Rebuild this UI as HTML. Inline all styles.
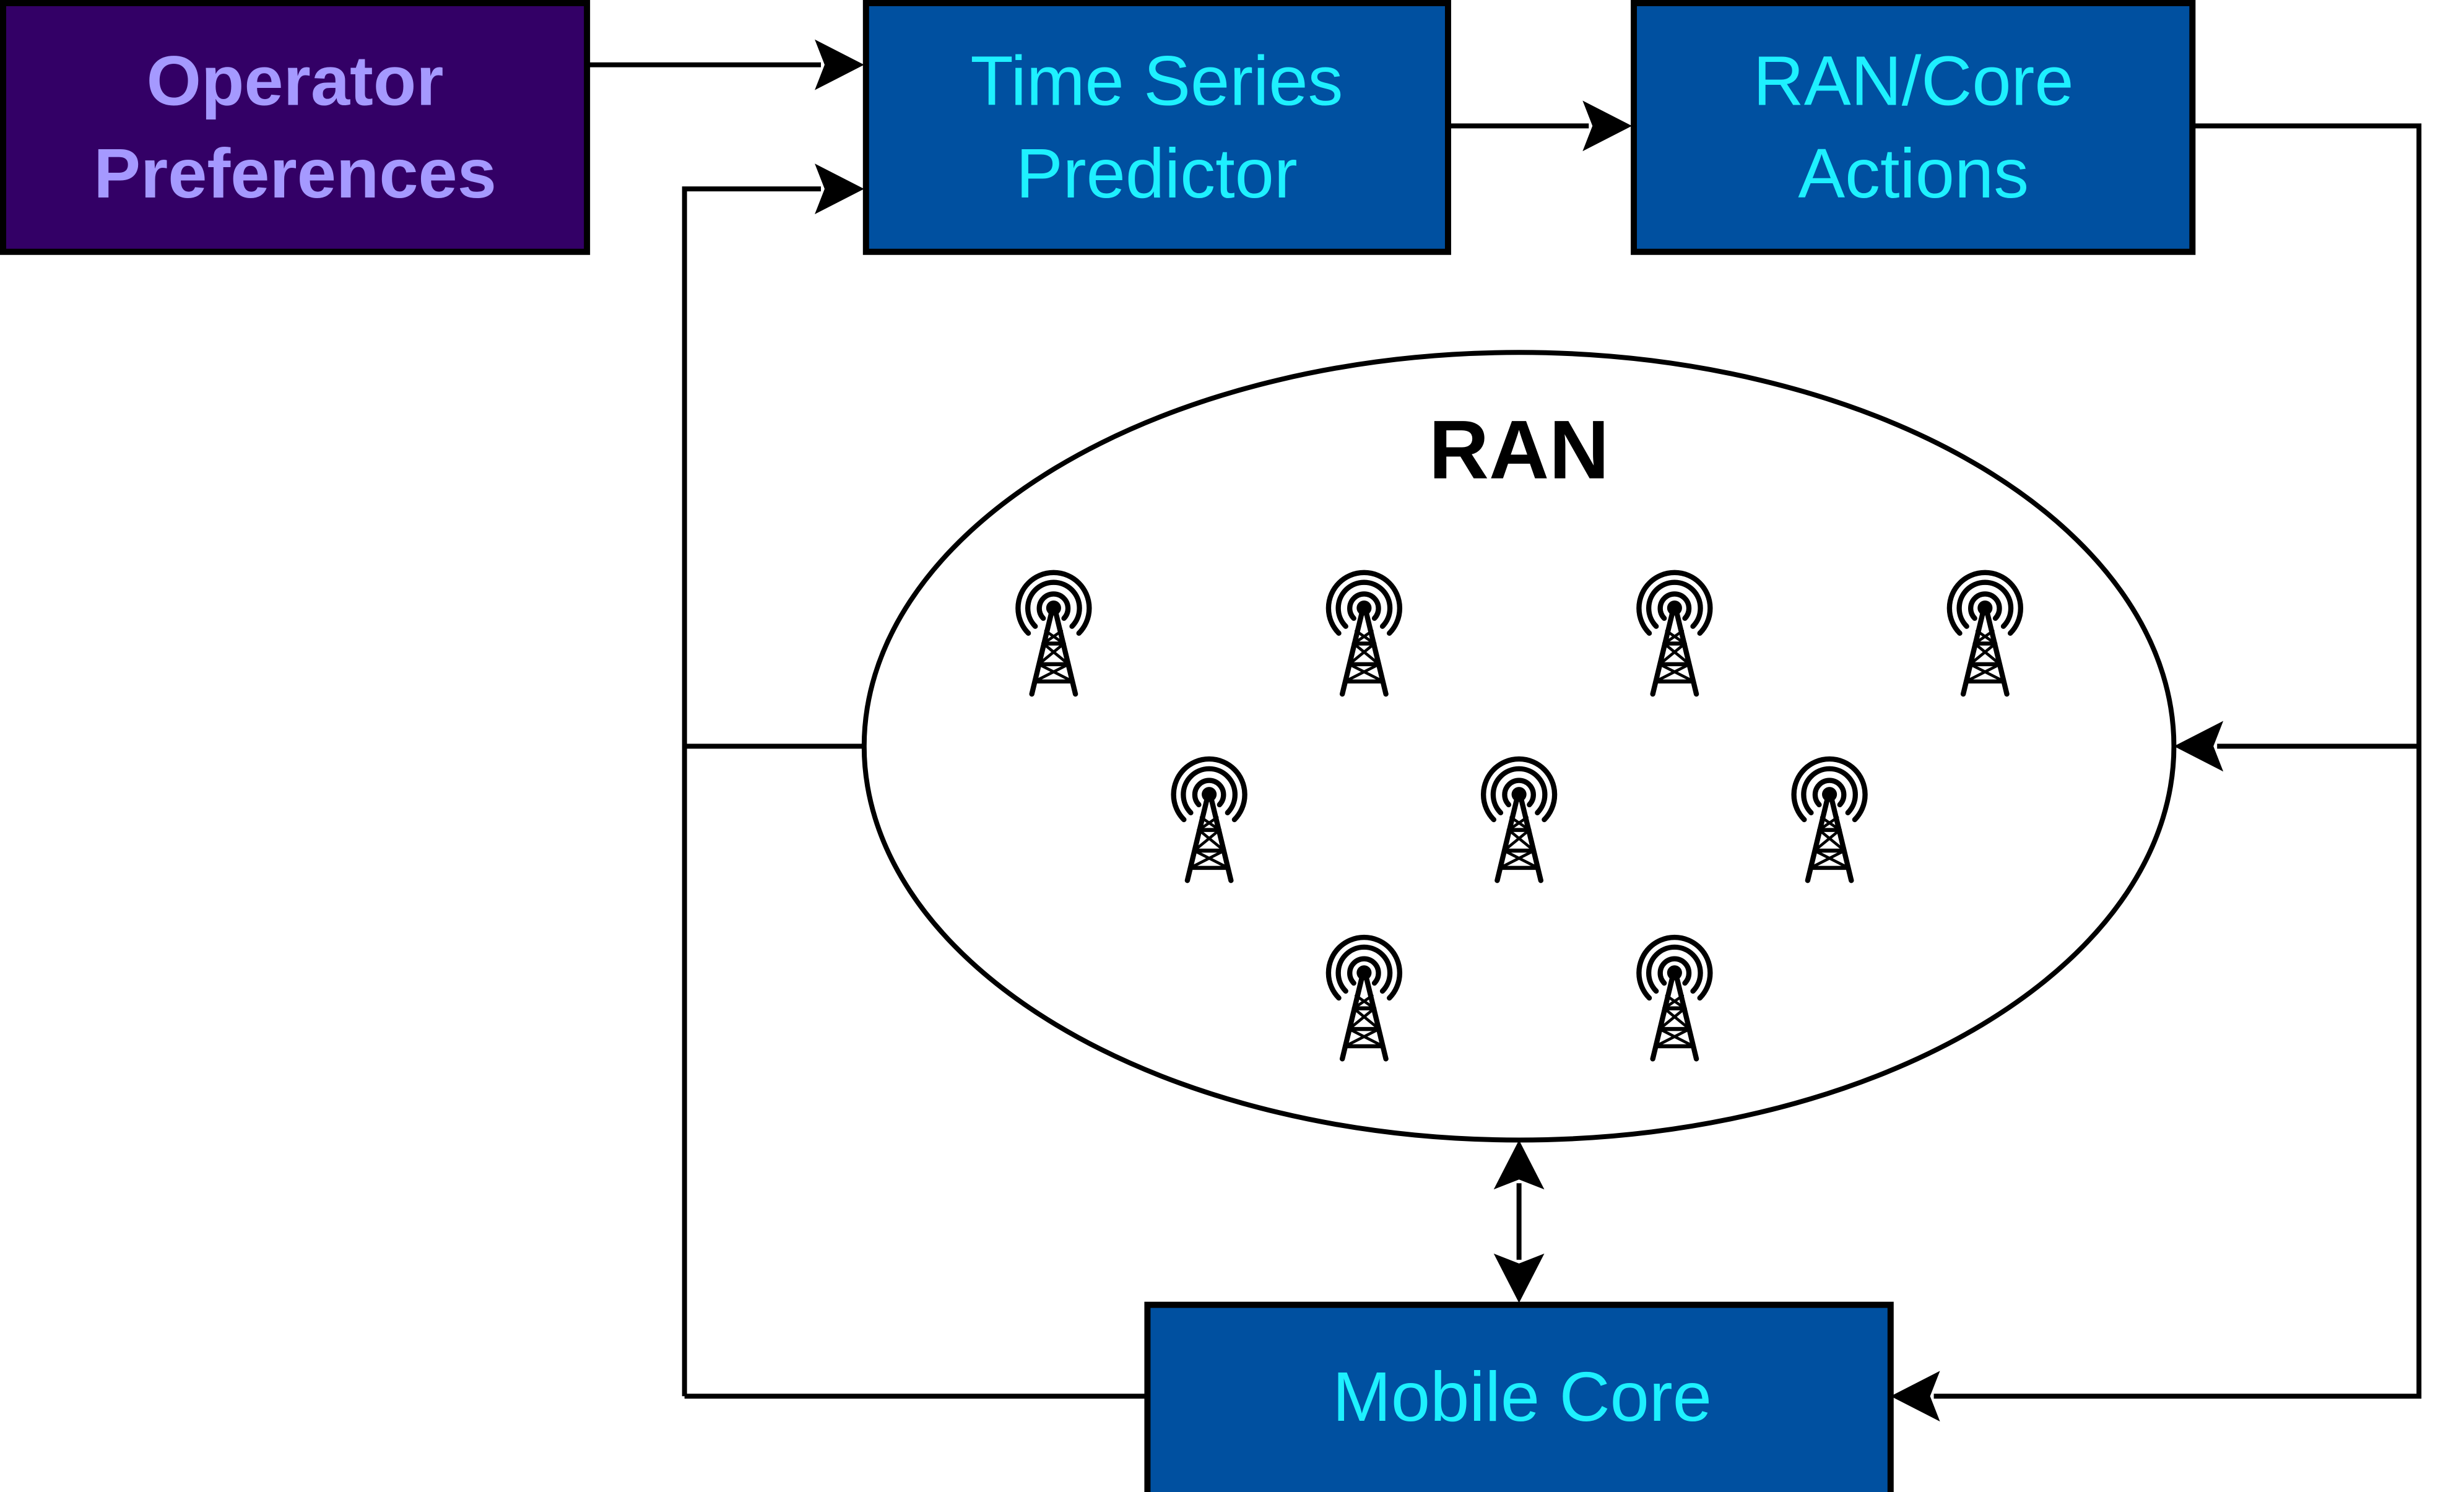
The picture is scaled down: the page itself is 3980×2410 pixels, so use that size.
<!DOCTYPE html>
<html><head><style>
html,body{margin:0;padding:0;background:#fff;}
svg{display:block;}
</style></head><body>
<svg width="3980" height="2410" viewBox="0 0 3980 2410" xmlns="http://www.w3.org/2000/svg">
<defs>
<g id="tw0" fill="none" stroke="#000" stroke-linecap="round">
  <path d="M -18 18 A 25 25 0 1 1 18 18" stroke-width="9"/>
  <path d="M -32 32 A 45 45 0 1 1 32 32" stroke-width="9"/>
  <path d="M -44 44 A 62 62 0 1 1 44 44" stroke-width="9"/>
  <circle cx="0" cy="0" r="13" fill="#000" stroke="none"/>
  <path d="M -3 5 L -38 150 M 3 5 L 38 150" stroke-width="9"/>
  <path d="M -18 62 L 18 62 M -26 98 L 26 98 M -33 128 L 33 128" stroke-width="7"/>
  <path d="M -18 62 L 26 98 M 18 62 L -26 98 M -26 98 L 33 128 M 26 98 L -33 128 M -14 40 L 18 62 M 14 40 L -18 62" stroke-width="5"/>
</g>
<g id="tw"><use href="#tw0" transform="scale(0.93)"/></g>
</defs>
<g transform="scale(0.997)">
<rect x="5" y="5" width="946" height="403" fill="#330066" stroke="#000" stroke-width="10"/>
<text x="478" y="170" text-anchor="middle" font-family="Liberation Sans, sans-serif" font-weight="bold" font-size="114" fill="#A599FF">Operator</text>
<text x="478" y="320" text-anchor="middle" font-family="Liberation Sans, sans-serif" font-weight="bold" font-size="114" fill="#A599FF">Preferences</text>

<rect x="1403" y="5" width="943" height="403" fill="#0050A0" stroke="#000" stroke-width="10"/>
<text x="1874" y="170" text-anchor="middle" font-family="Liberation Sans, sans-serif" font-size="114" fill="#1EF0FF">Time Series</text>
<text x="1874" y="320" text-anchor="middle" font-family="Liberation Sans, sans-serif" font-size="114" fill="#1EF0FF">Predictor</text>

<rect x="2647" y="5" width="905" height="403" fill="#0050A0" stroke="#000" stroke-width="10"/>
<text x="3100" y="170" text-anchor="middle" font-family="Liberation Sans, sans-serif" font-size="114" fill="#1EF0FF">RAN/Core</text>
<text x="3100" y="320" text-anchor="middle" font-family="Liberation Sans, sans-serif" font-size="114" fill="#1EF0FF">Actions</text>

<rect x="1859" y="2114" width="1204" height="310" fill="#0050A0" stroke="#000" stroke-width="10"/>
<text x="2466" y="2302" text-anchor="middle" font-family="Liberation Sans, sans-serif" font-size="114" fill="#1EF0FF">Mobile Core</text>

<ellipse cx="2461" cy="1209" rx="1061" ry="638" fill="#fff" stroke="#000" stroke-width="8"/>
<text x="2461" y="775" text-anchor="middle" font-family="Liberation Sans, sans-serif" font-weight="bold" font-size="135" fill="#000">RAN</text>

<use href="#tw" x="1707" y="985"/>
<use href="#tw" x="2210" y="985"/>
<use href="#tw" x="2713" y="985"/>
<use href="#tw" x="3216" y="985"/>
<use href="#tw" x="1959" y="1287"/>
<use href="#tw" x="2461" y="1287"/>
<use href="#tw" x="2964" y="1287"/>
<use href="#tw" x="2210" y="1576"/>
<use href="#tw" x="2713" y="1576"/>

<g fill="none" stroke="#000" stroke-width="8">
  <path d="M 951 105 L 1330 105"/>
  <path d="M 1400 1209 L 1109 1209 M 1109 2262 L 1109 306 L 1330 306 M 1109 2262 L 1856 2262"/>
  <path d="M 2346 204 L 2574 204"/>
  <path d="M 3552 204 L 3919 204 L 3919 2262 L 3133 2262 M 3919 1209 L 3592 1209"/>
  <path d="M 2461 1917 L 2461 2041"/>
</g>
<g fill="#000">
  <path d="M 1400 105 L 1320 64 L 1336 105 L 1320 146 Z"/>
  <path d="M 1400 306 L 1320 265 L 1336 306 L 1320 347 Z"/>
  <path d="M 2644 204 L 2564 163 L 2580 204 L 2564 245 Z"/>
  <path d="M 3063 2262 L 3143 2221 L 3127 2262 L 3143 2303 Z"/>
  <path d="M 3522 1209 L 3602 1168 L 3586 1209 L 3602 1250 Z"/>
  <path d="M 2461 1847 L 2420 1927 L 2461 1911 L 2502 1927 Z"/>
  <path d="M 2461 2111 L 2420 2031 L 2461 2047 L 2502 2031 Z"/>
</g>
</g>
</svg>
</body></html>
